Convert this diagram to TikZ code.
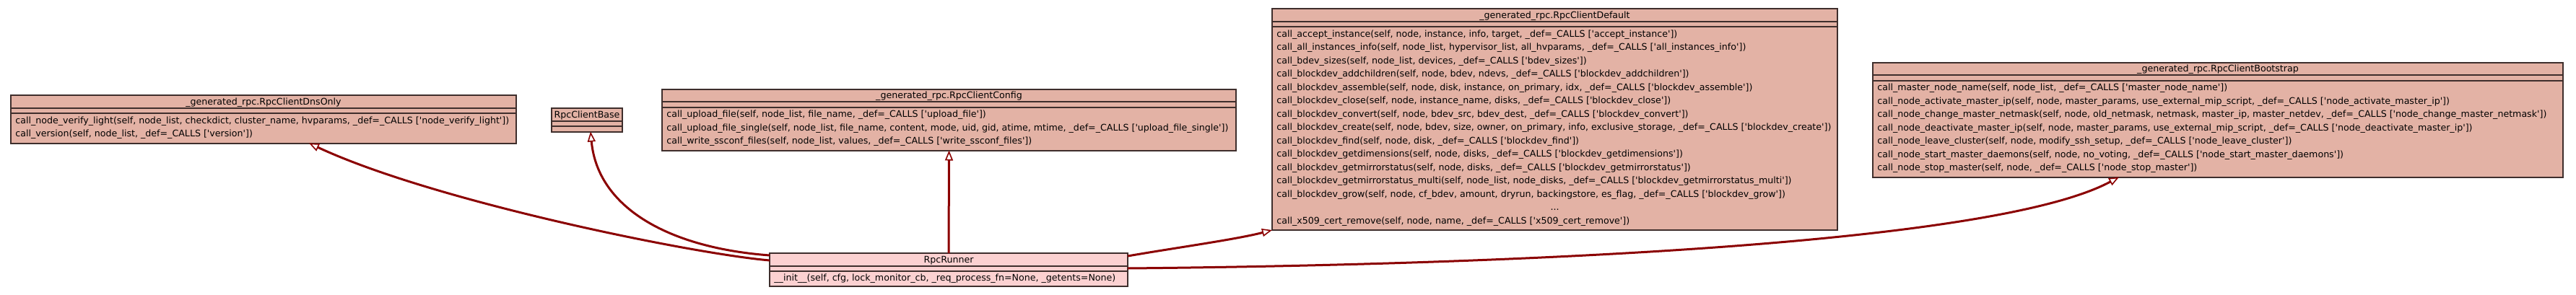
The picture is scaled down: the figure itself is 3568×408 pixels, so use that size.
\documentclass[tikz,border=0pt]{standalone}
\usepackage{fontspec}
\newfontfamily\gvfont{DejaVu Sans}
\usetikzlibrary{arrows.meta,calc}
\definecolor{clsfill}{RGB}{227,178,165}
\definecolor{runfill}{RGB}{252,209,209}
\definecolor{clsline}{RGB}{62,46,44}
\definecolor{edgecol}{RGB}{139,0,0}
\newlength\gvref
\newcommand\q{\textquotesingle}
\newcommand\clsframe[6]{%
  \pgfmathsetmacro\cw{(#4-#2)*0.5}%
  \pgfmathsetmacro\ch{(#5-#3)*0.5}%
  \node[clsbox, fill=#6, minimum width=\cw pt, minimum height=\ch pt, anchor=north west] (#1) at (#2,#3) {};
  \draw[clsrule] (#2,#3+17.5) -- (#4,#3+17.5);
  \draw[clsrule] (#2,#3+25) -- (#4,#3+25);
}
\begin{document}
\settowidth\gvref{\gvfont\fontsize{10pt}{12pt}\selectfont call\_blockdev\_create(self, node, bdev, size, owner, on\_primary, info, exclusive\_storage, \_def=\_CALLS ['blockdev\_create'])}%
\pgfmathsetmacro\gvfs{10*384/\gvref}%
\begin{tikzpicture}[x=0.5pt,y=-0.5pt]
\tikzset{
  clsbox/.style={draw=clsline, line width=1pt, inner sep=0pt, outer sep=0pt, rectangle},
  clsrule/.style={draw=clsline, line width=1pt},
  ttl/.style={anchor=base, inner sep=0pt, font=\gvfont\fontsize{\gvfs pt}{\gvfs pt}\selectfont},
  mth/.style={anchor=base west, inner sep=0pt, font=\gvfont\fontsize{\gvfs pt}{\gvfs pt}\selectfont},
  edgeline/.style={draw=edgecol, line width=1.5pt,
    -{Triangle[open, fill=white, length=7pt, width=5.5pt, line width=0.8pt]}},
}
\fill[white] (0,0) rectangle (3568,408);
\useasboundingbox (0,0) rectangle (3568,408);

% RpcClientDnsOnly
\clsframe{dns}{15}{132}{715}{198.5}{clsfill}
\node[ttl] (dns-t) at (365,132+13) {\_generated\_rpc.RpcClientDnsOnly};
\node[mth] (dns-m1) at (21,132+39) {call\_node\_verify\_light(self, node\_list, checkdict, cluster\_name, hvparams, \_def=\_CALLS [\q node\_verify\_light\q])};
\node[mth] (dns-m2) at (21,132+57.5) {call\_version(self, node\_list, \_def=\_CALLS [\q version\q])};

% RpcClientBase
\clsframe{base}{764}{150}{862}{182.5}{clsfill}
\node[ttl] (base-t) at (813,150+13) {RpcClientBase};

% RpcClientConfig
\clsframe{cfg}{917}{123.5}{1712}{208.5}{clsfill}
\node[ttl] (cfg-t) at (1314.5,123.5+13) {\_generated\_rpc.RpcClientConfig};
\node[mth] (cfg-m1) at (923,123.5+39) {call\_upload\_file(self, node\_list, file\_name, \_def=\_CALLS [\q upload\_file\q])};
\node[mth] (cfg-m2) at (923,123.5+57.5) {call\_upload\_file\_single(self, node\_list, file\_name, content, mode, uid, gid, atime, mtime, \_def=\_CALLS [\q upload\_file\_single\q])};
\node[mth] (cfg-m3) at (923,123.5+76) {call\_write\_ssconf\_files(self, node\_list, values, \_def=\_CALLS [\q write\_ssconf\_files\q])};

% RpcClientDefault
\clsframe{def}{1762}{12}{2545}{319}{clsfill}
\node[ttl] (def-t) at (2153.5,12+13) {\_generated\_rpc.RpcClientDefault};
\node[mth] (def-m1) at (1768,12+39) {call\_accept\_instance(self, node, instance, info, target, \_def=\_CALLS [\q accept\_instance\q])};
\node[mth] (def-m2) at (1768,12+57.5) {call\_all\_instances\_info(self, node\_list, hypervisor\_list, all\_hvparams, \_def=\_CALLS [\q all\_instances\_info\q])};
\node[mth] (def-m3) at (1768,12+76) {call\_bdev\_sizes(self, node\_list, devices, \_def=\_CALLS [\q bdev\_sizes\q])};
\node[mth] (def-m4) at (1768,12+94.5) {call\_blockdev\_addchildren(self, node, bdev, ndevs, \_def=\_CALLS [\q blockdev\_addchildren\q])};
\node[mth] (def-m5) at (1768,12+113) {call\_blockdev\_assemble(self, node, disk, instance, on\_primary, idx, \_def=\_CALLS [\q blockdev\_assemble\q])};
\node[mth] (def-m6) at (1768,12+131.5) {call\_blockdev\_close(self, node, instance\_name, disks, \_def=\_CALLS [\q blockdev\_close\q])};
\node[mth] (def-m7) at (1768,12+150) {call\_blockdev\_convert(self, node, bdev\_src, bdev\_dest, \_def=\_CALLS [\q blockdev\_convert\q])};
\node[mth] (def-m8) at (1768,12+168.5) {call\_blockdev\_create(self, node, bdev, size, owner, on\_primary, info, exclusive\_storage, \_def=\_CALLS [\q blockdev\_create\q])};
\node[mth] (def-m9) at (1768,12+187) {call\_blockdev\_find(self, node, disk, \_def=\_CALLS [\q blockdev\_find\q])};
\node[mth] (def-m10) at (1768,12+205.5) {call\_blockdev\_getdimensions(self, node, disks, \_def=\_CALLS [\q blockdev\_getdimensions\q])};
\node[mth] (def-m11) at (1768,12+224) {call\_blockdev\_getmirrorstatus(self, node, disks, \_def=\_CALLS [\q blockdev\_getmirrorstatus\q])};
\node[mth] (def-m12) at (1768,12+242.5) {call\_blockdev\_getmirrorstatus\_multi(self, node\_list, node\_disks, \_def=\_CALLS [\q blockdev\_getmirrorstatus\_multi\q])};
\node[mth] (def-m13) at (1768,12+261) {call\_blockdev\_grow(self, node, cf\_bdev, amount, dryrun, backingstore, es\_flag, \_def=\_CALLS [\q blockdev\_grow\q])};
\node[ttl] (def-dots) at (2153.5,12+279.5) {...};
\node[mth] (def-m15) at (1768,12+298) {call\_x509\_cert\_remove(self, node, name, \_def=\_CALLS [\q x509\_cert\_remove\q])};

% RpcClientBootstrap
\clsframe{boot}{2594}{86.5}{3550}{245.5}{clsfill}
\node[ttl] (boot-t) at (3072,86.5+13) {\_generated\_rpc.RpcClientBootstrap};
\node[mth] (boot-m1) at (2600,86.5+39) {call\_master\_node\_name(self, node\_list, \_def=\_CALLS [\q master\_node\_name\q])};
\node[mth] (boot-m2) at (2600,86.5+57.5) {call\_node\_activate\_master\_ip(self, node, master\_params, use\_external\_mip\_script, \_def=\_CALLS [\q node\_activate\_master\_ip\q])};
\node[mth] (boot-m3) at (2600,86.5+76) {call\_node\_change\_master\_netmask(self, node, old\_netmask, netmask, master\_ip, master\_netdev, \_def=\_CALLS [\q node\_change\_master\_netmask\q])};
\node[mth] (boot-m4) at (2600,86.5+94.5) {call\_node\_deactivate\_master\_ip(self, node, master\_params, use\_external\_mip\_script, \_def=\_CALLS [\q node\_deactivate\_master\_ip\q])};
\node[mth] (boot-m5) at (2600,86.5+113) {call\_node\_leave\_cluster(self, node, modify\_ssh\_setup, \_def=\_CALLS [\q node\_leave\_cluster\q])};
\node[mth] (boot-m6) at (2600,86.5+131.5) {call\_node\_start\_master\_daemons(self, node, no\_voting, \_def=\_CALLS [\q node\_start\_master\_daemons\q])};
\node[mth] (boot-m7) at (2600,86.5+150) {call\_node\_stop\_master(self, node, \_def=\_CALLS [\q node\_stop\_master\q])};

% RpcRunner
\clsframe{run}{1066}{351}{1562}{397}{runfill}
\node[ttl] (run-t) at (1314,351+13) {RpcRunner};
\node[mth] (run-m1) at (1072,351+38.5) {\_\_init\_\_(self, cfg, lock\_monitor\_cb, \_req\_process\_fn=None, \_getents=None)};

% inheritance edges
\draw[edgeline] ($(run.north west)+(0,10)$) .. controls (960,352) and (600,279) .. ($(dns.south west)+(413,0)$);
\draw[edgeline] ($(run.north west)+(0,3)$) .. controls (930,344) and (828,290) .. ($(base.south)+(5,0)$);
\draw[edgeline] (run.north) -- (cfg.south);
\draw[edgeline] ($(run.north east)+(0,4)$) .. controls (1625,344) and (1712,332) .. (def.south west);
\draw[edgeline] ($(run.north east)+(0,21)$) .. controls (2000,368) and (2750,345) .. ($(boot.south west)+(341,0)$);
\end{tikzpicture}
\end{document}
